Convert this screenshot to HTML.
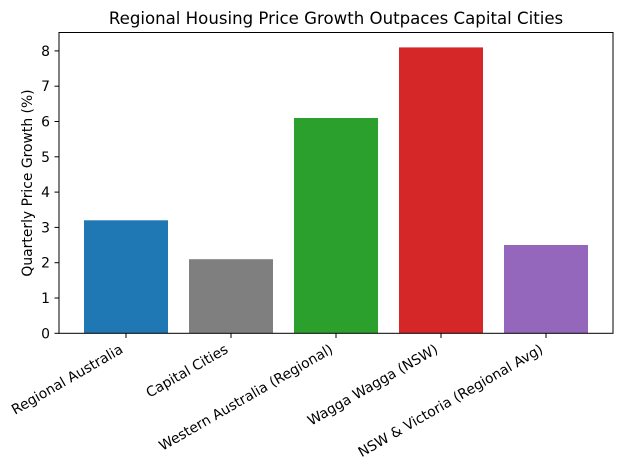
<!DOCTYPE html>
<html><head><style>body{margin:0;background:#fff}svg{display:block}text{font-family:"DejaVu Sans","Liberation Sans",sans-serif;fill:#000}</style></head>
<body>
<svg width="622" height="470" viewBox="0 0 622 470" xmlns="http://www.w3.org/2000/svg">
<rect width="622" height="470" fill="#fff"/>
<text x="336" y="24" font-size="16.6" text-anchor="middle">Regional Housing Price Growth Outpaces Capital Cities</text>
<rect x="84" y="220.3" width="84" height="113" fill="#1f77b4"/>
<rect x="189" y="259.2" width="84" height="74.1" fill="#7f7f7f"/>
<rect x="294" y="118" width="84" height="215.3" fill="#2ca02c"/>
<rect x="399" y="47.4" width="84" height="285.9" fill="#d62728"/>
<rect x="504" y="245" width="84" height="88.3" fill="#9467bd"/>
<rect x="59" y="32.5" width="554" height="300.8" fill="none" stroke="#000" stroke-width="1"/>
<g font-size="13.9" text-anchor="end">
<g stroke="#000"><line x1="54.5" x2="59" y1="333.3" y2="333.3"/><line x1="54.5" x2="59" y1="298" y2="298"/><line x1="54.5" x2="59" y1="262.7" y2="262.7"/><line x1="54.5" x2="59" y1="227.4" y2="227.4"/><line x1="54.5" x2="59" y1="192.1" y2="192.1"/><line x1="54.5" x2="59" y1="156.8" y2="156.8"/><line x1="54.5" x2="59" y1="121.5" y2="121.5"/><line x1="54.5" x2="59" y1="86.2" y2="86.2"/><line x1="54.5" x2="59" y1="50.9" y2="50.9"/></g>
<text x="50" y="338.3">0</text><text x="50" y="303">1</text><text x="50" y="267.7">2</text><text x="50" y="232.4">3</text><text x="50" y="197.1">4</text><text x="50" y="161.8">5</text><text x="50" y="126.5">6</text><text x="50" y="91.2">7</text><text x="50" y="55.9">8</text>
</g>
<text transform="translate(32,183) rotate(-90)" font-size="13.9" text-anchor="middle">Quarterly Price Growth (%)</text>
<g stroke="#000"><line x1="126" x2="126" y1="333.3" y2="338"/><line x1="231" x2="231" y1="333.3" y2="338"/><line x1="336" x2="336" y1="333.3" y2="338"/><line x1="441" x2="441" y1="333.3" y2="338"/><line x1="546" x2="546" y1="333.3" y2="338"/></g>
<g font-size="13.9" text-anchor="end">
<text transform="translate(124,352) rotate(-30)">Regional Australia</text>
<text transform="translate(229,352) rotate(-30)">Capital Cities</text>
<text transform="translate(334,352) rotate(-30)">Western Australia (Regional)</text>
<text transform="translate(439,352) rotate(-30)">Wagga Wagga (NSW)</text>
<text transform="translate(544,352) rotate(-30)">NSW &amp; Victoria (Regional Avg)</text>
</g>
</svg>
</body></html>
